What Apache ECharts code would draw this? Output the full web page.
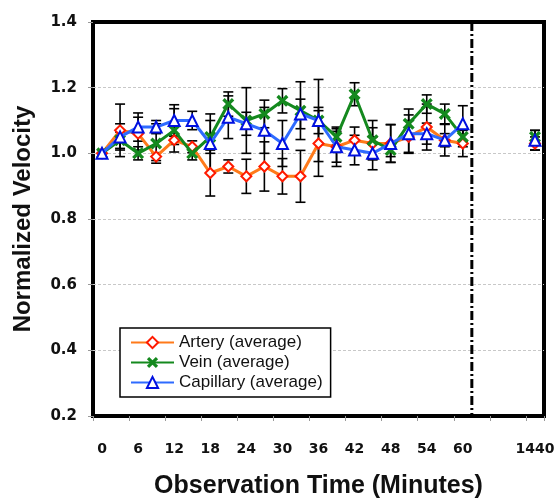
<!DOCTYPE html>
<html>
<head>
<meta charset="utf-8">
<script src="https://cdn.jsdelivr.net/npm/echarts@6/dist/echarts.min.js"></script>
<style>
  html, body { margin: 0; padding: 0; background: #fff; }
  #chart { width: 560px; height: 504px; }
</style>
</head>
<body>
<div id="chart"></div>
<script>
// Observation times (minutes); blank slots stand for the gap before 1440.
const timeLabels = ['0', '3', '6', '9', '12', '15', '18', '21', '24', '27', '30', '33', '36',
  '39', '42', '45', '48', '51', '54', '57', '60', '', '', '', '1440'];

// Normalized velocity, averaged per vessel type
const artery = [1.00, 1.07, 1.06, 0.99, 1.04, 1.02, 0.94, 0.96, 0.93, 0.96, 0.93, 0.93, 1.03,
  1.02, 1.04, 1.03, 1.03, 1.05, 1.08, 1.04, 1.03, null, null, null, 1.03];
const vein = [1.00, 1.04, 1.00, 1.03, 1.07, 1.00, 1.05, 1.15, 1.10, 1.12, 1.16, 1.13, 1.10,
  1.05, 1.18, 1.04, 1.01, 1.09, 1.15, 1.12, 1.05, null, null, null, 1.05];
const capillary = [1.00, 1.05, 1.08, 1.08, 1.10, 1.10, 1.03, 1.11, 1.09, 1.07, 1.03, 1.12, 1.10,
  1.02, 1.01, 1.00, 1.03, 1.06, 1.06, 1.04, 1.09, null, null, null, 1.04];

// Error bar half-lengths (+/-)
const arteryErr = [0, 0.08, 0.05, 0.012, 0.013, 0.018, 0.07, 0.02, 0.052, 0.075, 0.054, 0.079, 0.10,
  0.047, 0.04, 0.048, 0.058, 0.05, 0.07, 0.048, 0.04, null, null, null, 0.02];
const veinErr = [0, 0.025, 0.02, 0.06, 0.066, 0.02, 0.05, 0.037, 0.10, 0.042, 0.037, 0.088, 0.125,
  0.025, 0.035, 0.06, 0.02, 0.045, 0.028, 0.03, 0.03, null, null, null, 0.02];
const capillaryErr = [0, 0.04, 0.043, 0.02, 0.048, 0.028, 0.09, 0.065, 0.035, 0.07, 0.07, 0.045, 0.04,
  0.06, 0.045, 0.05, 0.057, 0.057, 0.032, 0.02, 0.055, null, null, null, 0.03];

// Axis break between the 60-minute and 24-hour observations (in category slots)
const breakSlot = 21;

const FONT = '"Liberation Sans", Arial, sans-serif';
const TICK_FONT = '"DejaVu Sans", "Liberation Sans", Arial, sans-serif';

function errorData(values, errs) {
  const out = [];
  values.forEach(function (v, i) {
    if (v != null && errs[i]) out.push([i, v - errs[i], v + errs[i]]);
  });
  return out;
}

function errorSeries(values, errs) {
  return {
    type: 'custom',
    z: 2,
    silent: true,
    encode: { x: 0, y: [1, 2] },
    data: errorData(values, errs),
    renderItem: function (params, api) {
      const lo = api.coord([api.value(0), api.value(1)]);
      const hi = api.coord([api.value(0), api.value(2)]);
      const w = 5;
      const style = { stroke: '#000', lineWidth: 1.6 };
      return {
        type: 'group',
        children: [
          { type: 'line', shape: { x1: lo[0], y1: lo[1], x2: hi[0], y2: hi[1] }, style: style },
          { type: 'line', shape: { x1: lo[0] - w, y1: lo[1], x2: lo[0] + w, y2: lo[1] }, style: style },
          { type: 'line', shape: { x1: hi[0] - w, y1: hi[1], x2: hi[0] + w, y2: hi[1] }, style: style }
        ]
      };
    }
  };
}

const xMark = 'path://M2,0 L5,3 L8,0 L10,2 L7,5 L10,8 L8,10 L5,7 L2,10 L0,8 L3,5 L0,2 Z';

const chart = echarts.init(document.getElementById('chart'), null, { renderer: 'canvas' });

chart.setOption({
  animation: false,
  backgroundColor: '#fff',
  textStyle: { fontFamily: FONT },
  grid: {
    left: 93, right: 16, top: 22, bottom: 84,
    show: true, borderColor: '#000', borderWidth: 4, backgroundColor: 'transparent'
  },
  legend: {
    orient: 'vertical',
    left: 120, top: 328,
    backgroundColor: '#fff',
    borderColor: '#000', borderWidth: 1.5,
    padding: [6, 8, 6, 10],
    itemWidth: 43, itemHeight: 14, itemGap: 3,
    textStyle: { fontFamily: FONT, fontSize: 17, color: '#111' },
    data: ['Artery (average)', 'Vein (average)', 'Capillary (average)']
  },
  xAxis: [{
    type: 'category',
    data: timeLabels,
    boundaryGap: true,
    name: 'Observation Time (Minutes)',
    nameLocation: 'middle',
    nameGap: 58,
    nameTextStyle: { fontFamily: FONT, fontSize: 25, fontWeight: 'bold', color: '#111' },
    axisLine: { show: false },
    axisTick: { show: true, interval: 1, length: 5, lineStyle: { color: '#999', width: 1 } },
    axisLabel: { interval: 1, margin: 26, fontFamily: TICK_FONT, fontSize: 14, fontWeight: 'bold', color: '#111' },
    splitLine: { show: false }
  }, {
    type: 'value', min: 0, max: timeLabels.length, show: false
  }],
  yAxis: {
    type: 'value',
    min: 0.2, max: 1.4, interval: 0.2,
    name: 'Normalized Velocity',
    nameLocation: 'middle',
    nameGap: 58,
    nameTextStyle: { fontFamily: FONT, fontSize: 24, fontWeight: 'bold', color: '#111' },
    axisLine: { show: false },
    axisTick: { show: true, length: 5, lineStyle: { color: '#999', width: 1 } },
    axisLabel: {
      margin: 16, fontFamily: TICK_FONT, fontSize: 15, fontWeight: 'bold', color: '#111',
      formatter: function (v) { return v.toFixed(1); }
    },
    splitLine: {
      show: true, showMinLine: false, showMaxLine: false,
      lineStyle: { color: '#c8c8c8', type: [3, 2], width: 1 }
    }
  },
  series: [
    errorSeries(artery, arteryErr),
    errorSeries(vein, veinErr),
    errorSeries(capillary, capillaryErr),
    {
      name: 'Artery (average)', type: 'line', z: 3, data: artery, connectNulls: false,
      symbol: 'diamond', symbolSize: 10,
      lineStyle: { color: '#FF7A1A', width: 3 },
      itemStyle: { color: '#fff', borderColor: '#FF1A00', borderWidth: 2 }
    },
    {
      name: 'Vein (average)', type: 'line', z: 4, data: vein, connectNulls: false,
      symbol: xMark, symbolSize: 12,
      lineStyle: { color: '#14891E', width: 3 },
      itemStyle: { color: '#14891E', borderColor: '#14891E', borderWidth: 0 }
    },
    {
      name: 'Capillary (average)', type: 'line', z: 5, data: capillary, connectNulls: false,
      symbol: 'triangle', symbolSize: 11,
      lineStyle: { color: '#2E6BFF', width: 3 },
      itemStyle: { color: '#fff', borderColor: '#0010E0', borderWidth: 2 }
    },
    {
      type: 'custom', xAxisIndex: 1, z: 6, silent: true,
      data: [[breakSlot]],
      renderItem: function (params, api) {
        const top = api.coord([api.value(0), 1.4]);
        const bottom = api.coord([api.value(0), 0.2]);
        return {
          type: 'line',
          shape: { x1: top[0], y1: top[1], x2: bottom[0], y2: bottom[1] },
          style: { stroke: '#000', lineWidth: 3, lineDash: [9, 3, 2, 3] }
        };
      }
    }
  ]
});
</script>
</body>
</html>
